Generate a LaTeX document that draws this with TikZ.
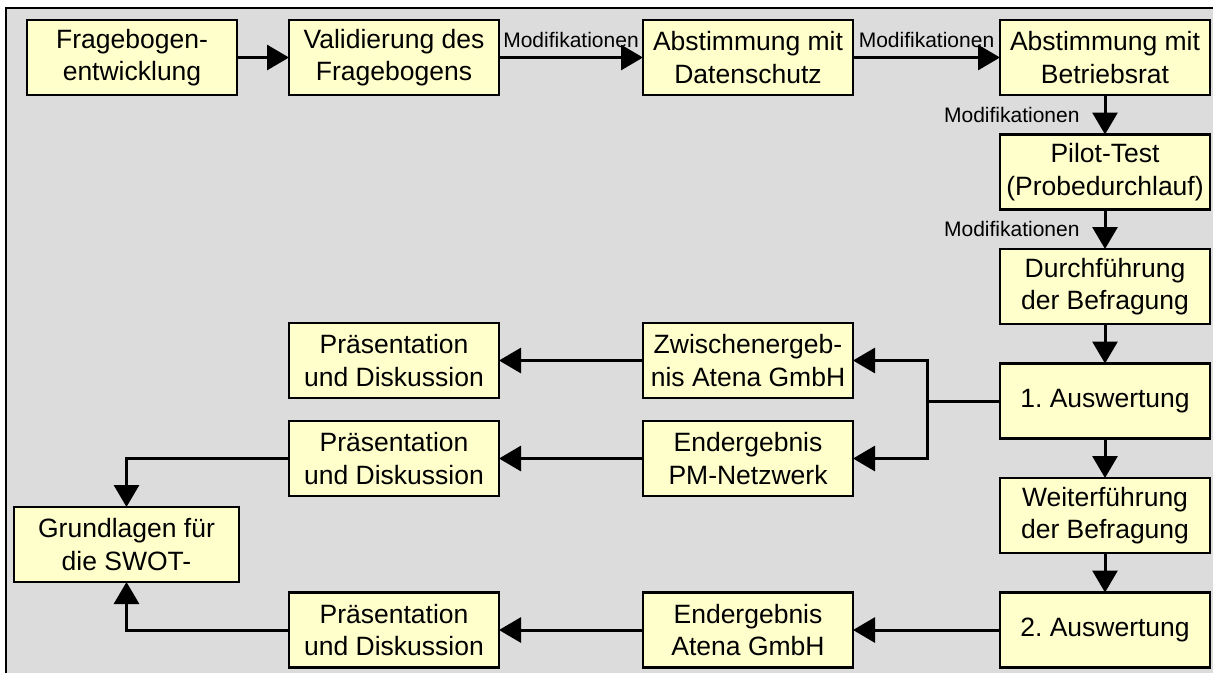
\documentclass[tikz,border=0pt]{standalone}
\usepackage{fontspec}
\setmainfont{Liberation Sans}
\usepackage{tikz}
\usetikzlibrary{arrows.meta,positioning}
\definecolor{panelgray}{HTML}{DCDCDC}
\definecolor{boxyellow}{HTML}{FFFFCC}
\tikzset{
  every node/.style={text=black},
  proc/.style={draw=black,line width=2.7pt,fill=boxyellow,align=center,inner sep=0pt,outer sep=0pt,
    minimum width=210pt,minimum height=75pt,font=\fontsize{26.5}{32.5}\selectfont},
  lbl/.style={inner sep=0pt,font=\fontsize{21}{24}\selectfont},
  arrow/.style={-{Triangle[length=22pt,width=25pt]},line width=3pt,draw=black},
  link/.style={line width=3pt,draw=black},
  frame/.style={line width=2pt,draw=black}
}
\begin{document}
\begin{tikzpicture}[x=1pt,y=-1pt,node distance=39.5pt and 52pt]
  \useasboundingbox (0,0) rectangle (1215,673);
  \fill[panelgray] (6,8) rectangle (1213,673);
  \draw[frame] (6,673) -- (6,8) -- (1213,8);

  \node[proc] (dev) at (132,57.5) {Fragebogen-\\entwicklung};
  \node[proc,right=of dev] (valid) {Validierung des\\Fragebogens};
  \node[proc,right=144pt of valid] (dsch) {Abstimmung mit\\Datenschutz};
  \node[proc,right=147pt of dsch] (brat) {Abstimmung mit\\Betriebsrat};
  \node[proc,below=of brat] (pilot) {Pilot-Test\\(Probedurchlauf)};
  \node[proc,below=of pilot] (durch) {Durchführung\\der Befragung};
  \node[proc,below=of durch] (ausw1) {1.\ Auswertung};
  \node[proc,below=of ausw1] (weiter) {Weiterführung\\der Befragung};
  \node[proc,below=of weiter] (ausw2) {2.\ Auswertung};

  \node[proc] (zwi) at (748,360.5) {Zwischenergeb-\\nis Atena GmbH};
  \node[proc] (endpm) at (748,458.5) {Endergebnis\\PM-Netzwerk};
  \node[proc,left=147pt of ausw2] (endat) {Endergebnis\\Atena GmbH};
  \node[proc,left=144pt of zwi] (pres1) {Präsentation\\und Diskussion};
  \node[proc,left=144pt of endpm] (pres2) {Präsentation\\und Diskussion};
  \node[proc,left=144pt of endat] (pres3) {Präsentation\\und Diskussion};
  \node[proc,minimum width=225pt] (grund) at (126.5,544.5) {Grundlagen für\\die SWOT-};

  \draw[arrow] (dev) -- (valid);
  \draw[arrow] (valid) -- node[lbl,above=8pt] {Modifikationen} (dsch);
  \draw[arrow] (dsch) -- node[lbl,above=8pt] {Modifikationen} (brat);
  \draw[arrow] (brat) -- node[lbl,left=24pt] {Modifikationen} (pilot);
  \draw[arrow] (pilot) -- node[lbl,left=24pt] {Modifikationen} (durch);
  \draw[arrow] (durch) -- (ausw1);
  \draw[arrow] (ausw1) -- (weiter);
  \draw[arrow] (weiter) -- (ausw2);

  \coordinate[left=73pt of ausw1.west] (fork);
  \draw[link] (ausw1) -- (fork);
  \draw[arrow] (fork) |- (zwi);
  \draw[arrow] (fork) |- (endpm);
  \draw[arrow] (zwi) -- (pres1);
  \draw[arrow] (endpm) -- (pres2);
  \draw[arrow] (ausw2) -- (endat);
  \draw[arrow] (endat) -- (pres3);
  \draw[arrow] (pres2) -| (grund);
  \draw[arrow] (pres3) -| (grund);
\end{tikzpicture}
\end{document}
